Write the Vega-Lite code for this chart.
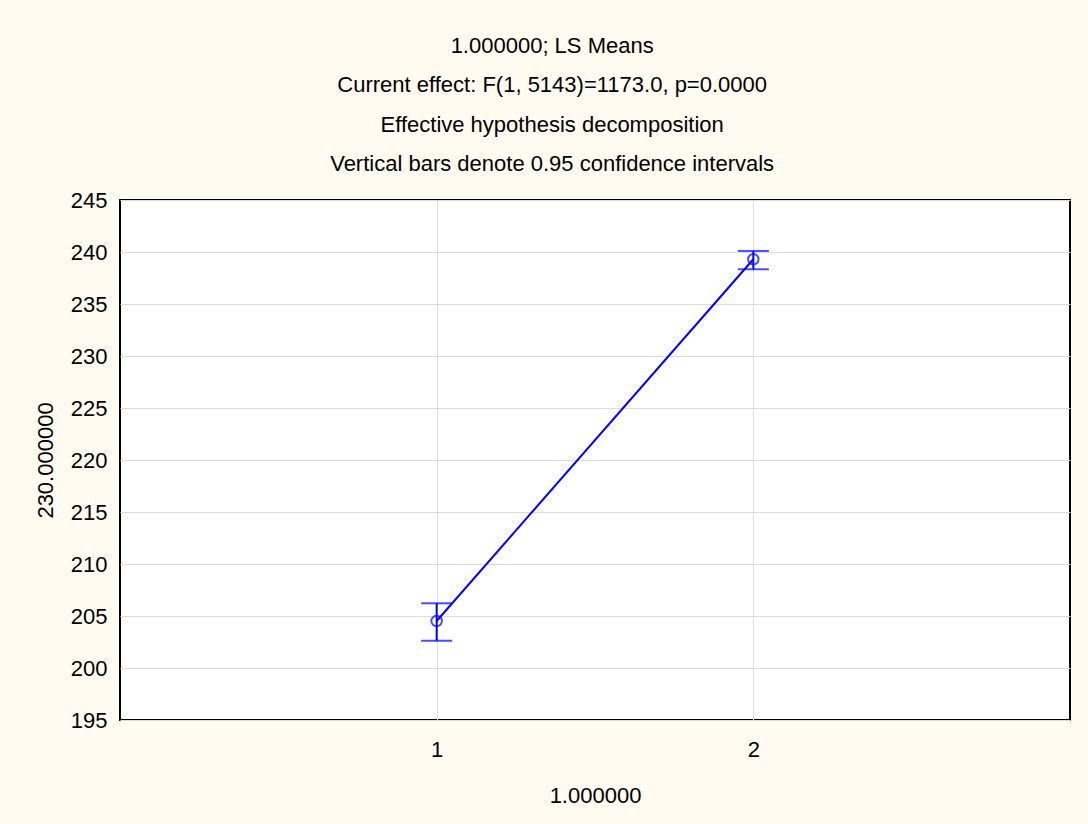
{
  "$schema": "https://vega.github.io/schema/vega-lite/v6.json",
  "autosize": "none",
  "width": 950,
  "height": 520,
  "padding": {"left": 120, "top": 200, "right": 18, "bottom": 104},
  "background": "#FFFBF0",
  "config": {
    "font": "Liberation Sans",
    "view": {"fill": "white", "stroke": "black", "strokeWidth": 2},
    "axis": {"labelFont": "Liberation Sans", "titleFont": "Liberation Sans", "labelFontSize": 22, "titleFontSize": 22, "titleFontWeight": "normal", "labelColor": "black", "titleColor": "black", "gridColor": "#dcdcdc", "gridWidth": 1, "domain": false, "ticks": false}
  },
  "title": {
    "text": ["1.000000; LS Means", "Current effect: F(1, 5143)=1173.0, p=0.0000", "Effective hypothesis decomposition", "Vertical bars denote 0.95 confidence intervals"],
    "fontSize": 22,
    "fontWeight": "normal",
    "font": "Liberation Sans",
    "color": "black",
    "lineHeight": 39.5,
    "anchor": "middle",
    "frame": "bounds",
    "offset": 13
  },
  "data": {"values": [
    {"group": 1, "mean": 204.52, "lower": 202.62, "upper": 206.22},
    {"group": 2, "mean": 239.30, "lower": 238.34, "upper": 240.10}
  ]},
  "encoding": {
    "x": {"field": "group", "type": "quantitative", "scale": {"domain": [0, 3]},
      "axis": {"values": [1, 2], "title": "1.000000", "labelPadding": 19, "titlePadding": 25, "format": "d"}},
    "y": {"field": "mean", "type": "quantitative", "scale": {"domain": [195, 245], "nice": false},
      "axis": {"values": [195, 200, 205, 210, 215, 220, 225, 230, 235, 240, 245], "title": "230.000000", "labelPadding": 13, "titlePadding": 13}}
  },
  "layer": [
    {"mark": {"type": "line", "color": "#0000FF", "strokeWidth": 2}},
    {"mark": {"type": "rule", "color": "#0000FF", "strokeWidth": 2},
      "encoding": {"y": {"field": "lower", "type": "quantitative"}, "y2": {"field": "upper"}}},
    {"mark": {"type": "tick", "orient": "horizontal", "color": "#0000FF", "size": 31, "thickness": 2},
      "encoding": {"y": {"field": "lower", "type": "quantitative"}}},
    {"mark": {"type": "tick", "orient": "horizontal", "color": "#0000FF", "size": 31, "thickness": 2},
      "encoding": {"y": {"field": "upper", "type": "quantitative"}}},
    {"mark": {"type": "point", "shape": "circle", "filled": false, "color": "#0000FF", "strokeWidth": 2, "size": 110}}
  ]
}
